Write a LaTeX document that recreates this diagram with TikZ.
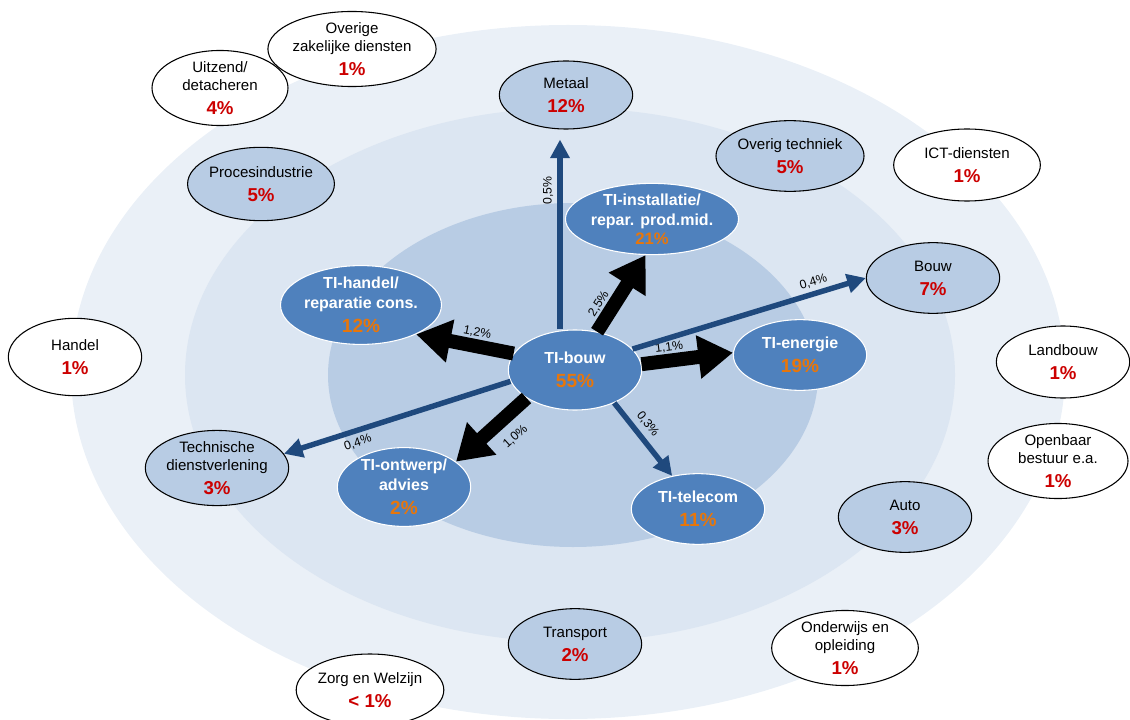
\documentclass[tikz,border=0pt]{standalone}
\usepackage{fontspec}
\setmainfont{Liberation Sans}
\usetikzlibrary{shapes.geometric,arrows.meta,calc}

\definecolor{ringout}{RGB}{234,240,247}
\definecolor{ringmid}{RGB}{220,230,242}
\definecolor{ringin}{RGB}{184,204,228}
\definecolor{sectorfill}{RGB}{184,204,228}
\definecolor{tiblue}{RGB}{79,129,189}
\definecolor{flowblue}{RGB}{31,73,125}
\definecolor{pctorange}{RGB}{232,118,10}
\definecolor{pctred}{RGB}{204,0,0}

\newcommand{\pctr}[1]{\\[4.5pt]{\fontsize{14}{16}\selectfont\bfseries\color{pctred}#1}}
\newcommand{\pcto}[1]{\\[3pt]{\fontsize{14.3}{17}\selectfont\bfseries\color{pctorange}#1}}

\begin{document}
\begin{tikzpicture}[x=0.75pt,y=-0.75pt,
  every node/.style={font=\fontsize{11.3}{13.5}\selectfont},
  sector/.style={ellipse,draw=black,line width=0.8pt,fill=sectorfill,align=center,
    inner sep=0pt,minimum width=100pt,minimum height=53pt},
  sectorout/.style={sector,fill=white},
  tinode/.style={ellipse,draw=white,line width=0.8pt,fill=tiblue,text=white,align=center,
    inner sep=0pt,minimum width=100pt,minimum height=53pt,font=\fontsize{12}{15}\selectfont\bfseries},
  bigflow/.style={line width=10.5pt,-{Triangle[width=31pt,length=26pt]}},
  flow/.style={color=flowblue,line width=4.1pt,-{Triangle[width=14pt,length=14pt]}},
  share/.style={font=\fontsize{9.2}{11}\selectfont,text=black,inner sep=1pt,sloped}]

\useasboundingbox (0,0) rectangle (1130,720);

% rings
\fill[ringout] (568,372) ellipse [x radius=497, y radius=347];
\fill[ringmid] (570,375) ellipse [x radius=385, y radius=267];
\fill[ringin] (573,375) ellipse [x radius=245, y radius=172];

% TI sectors
\node[tinode,minimum height=60pt] (tibouw) at (575,370) {TI-bouw\pcto{55\%}};
\node[tinode] (tiinst) at (652,219) {TI-installatie/\\repar. prod.mid.\\[-1pt]{\fontsize{12.5}{15}\selectfont\color{pctorange}21\%}};
\node[tinode] (tihandel) at (361,305) {TI-handel/\\reparatie cons.\pcto{12\%}};
\node[tinode] (tienergie) at (800,355) {TI-energie\pcto{19\%}};
\node[tinode] (titelecom) at (698,509) {TI-telecom\pcto{11\%}};
\node[tinode] (tiontwerp) at (404,487) {TI-ontwerp/\\advies\pcto{2\%}};

% other sectors
\node[sector,minimum height=51pt] (metaal) at (566,95) {Metaal\pctr{12\%}};
\node[sector] (overigtech) at (790,156) {Overig techniek\pctr{5\%}};
\node[sector] (bouw) at (933,278) {Bouw\pctr{7\%}};
\node[sector] (auto) at (905,517) {Auto\pctr{3\%}};
\node[sector] (transport) at (575,644) {Transport\pctr{2\%}};
\node[sector,minimum height=48pt] (techn) at (217,468) {Technische\\dienstverlening\pctr{3\%}};
\node[sector,minimum width=93pt,minimum height=55pt] (proces) at (261,184) {Procesindustrie\pctr{5\%}};

\node[sectorout,minimum width=110pt,minimum height=54pt] (ict) at (967,165) {ICT-diensten\pctr{1\%}};
\node[sectorout,minimum height=54pt] (landbouw) at (1063,362) {Landbouw\pctr{1\%}};
\node[sectorout,minimum width=105pt,minimum height=54pt] (openbaar) at (1058,461) {Openbaar\\bestuur e.a.\pctr{1\%}};
\node[sectorout,minimum width=110pt,minimum height=54pt] (onderwijs) at (845,648) {Onderwijs en\\opleiding\pctr{1\%}};
\node[sectorout,minimum width=110pt,minimum height=54pt] (zorg) at (370,690) {Zorg en Welzijn\pctr{< 1\%}};
\node[sectorout,minimum height=58pt] (handel) at (75,357) {Handel\pctr{1\%}};
\node[sectorout,minimum width=102pt] (uitzend) at (220,88) {Uitzend/\\detacheren\pctr{4\%}};
\node[sectorout,minimum width=104pt] (zakelijk) at (352,49) {Overige\\zakelijke diensten\pctr{1\%}};

% flows
\draw[bigflow] (tibouw.60) -- node[share,pos=0.27,above=0pt] {2,5\%} (tiinst.-100);
\draw[bigflow] (tibouw.165) -- node[share,pos=0.40,above=0pt] {1,2\%} (tihandel.-28);
\draw[bigflow] (tibouw.5) -- node[share,pos=0.32,above=0pt] {1,1\%} (tienergie.178);
\draw[bigflow] (tibouw.210) -- node[share,pos=0.36,below=6pt] {1,0\%} (tiontwerp.26);

\draw[flow] ($(tibouw.north)+(-15,0)$) -- node[share,pos=0.73,above=2pt] {0,5\%} ($(metaal.south)+(-6,10)$);
\draw[flow] (tibouw.20) -- node[share,pos=0.79,above=2pt] {0,4\%} (bouw.west);
\draw[flow] (tibouw.190) -- node[share,pos=0.69,below=2pt] {0,4\%} (techn.12);
\draw[flow] (tibouw.-40) -- node[share,pos=0.40,above=3pt] {0,3\%} (titelecom.128);

\end{tikzpicture}
\end{document}
